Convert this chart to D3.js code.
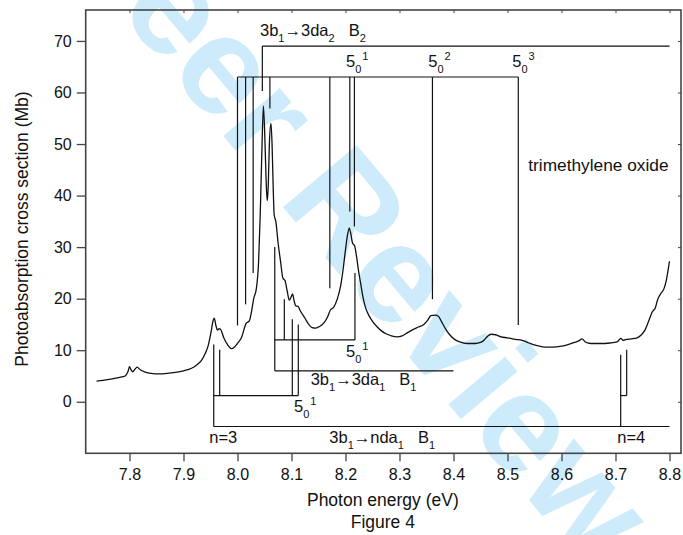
<!DOCTYPE html>
<html>
<head>
<meta charset="utf-8">
<script src="https://cdn.jsdelivr.net/npm/d3@7"></script>
<style>
  body { margin: 0; background: #fff; }
  svg { display: block; font-family: "Liberation Sans", Arial, sans-serif; }
</style>
</head>
<body>
<div id="chart"></div>
<script>
// spectrum (eV, Mb)
const energy = [7.739, 7.760, 7.780, 7.792, 7.797, 7.800, 7.803, 7.806, 7.810, 7.814, 7.820, 7.828, 7.840, 7.855, 7.870,
  7.885, 7.900, 7.915, 7.925, 7.933, 7.940, 7.946, 7.951, 7.955, 7.957, 7.960, 7.963, 7.966, 7.969, 7.975,
  7.982, 7.990, 7.996, 8.002, 8.008, 8.012, 8.016, 8.022, 8.026, 8.030, 8.035, 8.039, 8.042, 8.045, 8.048,
  8.051, 8.053, 8.055, 8.057, 8.059, 8.062, 8.064, 8.066, 8.068, 8.071, 8.075, 8.080, 8.084, 8.088, 8.092,
  8.096, 8.100, 8.102, 8.105, 8.108, 8.112, 8.117, 8.125, 8.132, 8.138, 8.145, 8.152, 8.160, 8.167, 8.172,
  8.178, 8.185, 8.191, 8.196, 8.200, 8.204, 8.207, 8.210, 8.213, 8.217, 8.220, 8.224, 8.228, 8.232, 8.237,
  8.243, 8.250, 8.258, 8.266, 8.275, 8.285, 8.295, 8.305, 8.315, 8.325, 8.335, 8.345, 8.352, 8.358, 8.366,
  8.372, 8.378, 8.385, 8.393, 8.402, 8.412, 8.425, 8.440, 8.450, 8.457, 8.463, 8.470, 8.478, 8.488, 8.500,
  8.515, 8.527, 8.540, 8.555, 8.570, 8.585, 8.600, 8.612, 8.624, 8.632, 8.638, 8.644, 8.655, 8.670, 8.690,
  8.703, 8.710, 8.714, 8.720, 8.730, 8.740, 8.748, 8.755, 8.762, 8.768, 8.774, 8.778, 8.784, 8.790, 8.794,
  8.797, 8.800];
const crossSection = [4.0, 4.3, 4.7, 5.0, 5.8, 6.8, 6.2, 5.8, 6.3, 6.7, 6.2, 5.8, 5.5, 5.4, 5.5,
  5.7, 6.0, 6.5, 7.2, 8.0, 9.3, 11.0, 13.5, 15.8, 16.2, 14.8, 13.9, 14.2, 14.0, 12.3,
  11.0, 10.3, 10.8, 11.6, 12.6, 14.0, 15.2, 15.7, 17.5, 20.0, 22.0, 27.0, 36.0, 48.0, 57.4,
  50.0, 43.0, 39.0, 42.0, 50.0, 54.0, 50.0, 42.0, 36.2, 35.0, 31.0, 27.0, 24.0, 23.5, 21.5,
  19.7, 20.5, 20.9, 19.5, 18.6, 18.5, 17.5, 16.2, 15.0, 14.4, 14.3, 14.6, 15.3, 16.5, 17.8,
  18.3, 20.0, 22.5, 26.0, 29.5, 32.5, 33.7, 32.5, 30.8, 30.2, 28.5, 25.5, 23.0, 20.5, 18.3,
  16.8, 15.6, 14.6, 13.8, 13.2, 12.8, 12.6, 12.8, 13.4, 14.0, 14.5, 15.0, 15.8, 16.7, 16.8,
  16.6, 15.5, 14.2, 13.0, 12.1, 11.6, 11.3, 11.3, 11.5, 12.0, 12.7, 13.1, 13.0, 12.6, 12.4,
  12.1, 11.9, 11.4, 10.9, 10.6, 10.6, 10.8, 11.1, 11.5, 11.8, 12.2, 11.6, 11.3, 11.3, 11.4,
  11.6, 12.3, 11.9, 12.1, 12.2, 12.4, 13.0, 14.0, 15.8, 17.4, 18.3, 19.8, 21.0, 22.0, 23.5,
  25.3, 27.3];

const xTicks = [7.8, 7.9, 8.0, 8.1, 8.2, 8.3, 8.4, 8.5, 8.6, 8.7, 8.8];
const yTicks = [0, 10, 20, 30, 40, 50, 60, 70];

// assignment combs: horizontal bar at `level` from x0 to x1, teeth [energy, tip]
const combs = [
  { level: 69, x0: 8.046, x1: 8.8, teeth: [[8.046, 60.3]] },
  { level: 63, x0: 8.0, x1: 8.52, teeth: [[8.0, 14.8], [8.015, 18.9], [8.029, 25], [8.060, 56.9], [8.171, 22],
      [8.208, 36.9], [8.2165, 34], [8.361, 19.9], [8.52, 14.9]] },
  { level: 6, x0: 8.069, x1: 8.4, teeth: [[8.069, 30]] },
  { level: 12, x0: 8.069, x1: 8.2175, teeth: [[8.0867, 19.9], [8.2175, 25]] },
  { level: -4.8, x0: 7.956, x1: 8.8, teeth: [[7.956, 11.1], [8.7096, 9.1]] },
  { level: 1.2, x0: 7.956, x1: 8.1126, teeth: [[7.967, 10.1], [8.1015, 16], [8.1126, 15]] },
  { level: 1.2, x0: 8.7096, x1: 8.7207, teeth: [[8.7207, 10.1]] }
];

// labels: parts are [text, kind, gap]
const labels = [
  { e: 8.0417, v: 71.0, parts: [['3b'], ['1', 'sub'], ['\u21923da'], ['2', 'sub'], ['B', '', 14], ['2', 'sub']] },
  { e: 8.2009, v: 65.0, parts: [['5'], ['0', 'sub'], ['1', 'sup']] },
  { e: 8.3533, v: 65.0, parts: [['5'], ['0', 'sub'], ['2', 'sup']] },
  { e: 8.5089, v: 65.0, parts: [['5'], ['0', 'sub'], ['3', 'sup']] },
  { e: 8.2009, v: 8.6, parts: [['5'], ['0', 'sub'], ['1', 'sup']] },
  { e: 8.1355, v: 3.3, parts: [['3b'], ['1', 'sub'], ['\u21923da'], ['1', 'sub'], ['B', '', 14], ['1', 'sub']] },
  { e: 8.1046, v: -1.9, parts: [['5'], ['0', 'sub'], ['1', 'sup']] },
  { e: 8.170, v: -8.0, parts: [['3b'], ['1', 'sub'], ['\u2192nda'], ['1', 'sub'], ['B', '', 14], ['1', 'sub']] },
  { e: 7.9478, v: -8.0, parts: [['n=3']] },
  { e: 8.7033, v: -8.0, parts: [['n=4']] },
  { e: 8.5385, v: 44.8, parts: [['trimethylene oxide']], size: 17.3 }
];

const w = 683, h = 535;
const mLeft = 85.7, mRight = 681, mTop = 10, mBottom = 453.3;

const svg = d3.select('#chart').append('svg')
  .attr('width', w)
  .attr('height', h);

// review watermark, sits under the plot
svg.append('text')
  .attr('transform', 'translate(-113,-265) rotate(50)')
  .attr('font-size', 140)
  .attr('font-weight', 'bold')
  .attr('fill', '#cdebfa')
  .text('For Peer Review Only');

const x = d3.scaleLinear().domain([7.7189, 8.8213]).range([mLeft, mRight]);
const y = d3.scaleLinear().domain([-10, 76]).range([mBottom, mTop]);

const xAxis = d3.axisBottom(x).tickValues(xTicks).tickFormat(d3.format('.1f')).tickSize(8).tickPadding(7);
const yAxis = d3.axisLeft(y).tickValues(yTicks).tickSize(9).tickPadding(5);

const gx = svg.append('g').attr('transform', 'translate(0,' + mBottom + ')').call(xAxis);
const gy = svg.append('g').attr('transform', 'translate(' + mLeft + ',0)').call(yAxis);
[gx, gy].forEach(g => {
  g.select('.domain').remove();
  g.selectAll('line').attr('stroke', '#444').attr('stroke-width', 1.3);
  g.selectAll('text').attr('font-size', 16).attr('fill', '#111')
    .attr('font-family', '"Liberation Sans", Arial, sans-serif');
});

// mirror ticks on top and right, pointing in
svg.append('g').attr('transform', 'translate(0,' + mTop + ')')
  .call(d3.axisTop(x).tickValues(xTicks).tickSize(-3).tickFormat(''))
  .call(g => g.select('.domain').remove())
  .selectAll('line').attr('stroke', '#444');
svg.append('g').attr('transform', 'translate(' + mRight + ',0)')
  .call(d3.axisRight(y).tickValues(yTicks).tickSize(-3).tickFormat(''))
  .call(g => g.select('.domain').remove())
  .selectAll('line').attr('stroke', '#444');

svg.append('rect')
  .attr('x', mLeft).attr('y', mTop)
  .attr('width', mRight - mLeft).attr('height', mBottom - mTop)
  .attr('fill', 'none')
  .attr('stroke', '#444')
  .attr('stroke-width', 1.6);

// combs
const combG = svg.append('g').attr('stroke', '#111').attr('stroke-width', 1.2).attr('fill', 'none');
combs.forEach(c => {
  combG.append('line')
    .attr('x1', x(c.x0)).attr('x2', x(c.x1))
    .attr('y1', y(c.level)).attr('y2', y(c.level));
  c.teeth.forEach(t => {
    combG.append('line')
      .attr('x1', x(t[0])).attr('x2', x(t[0]))
      .attr('y1', y(c.level)).attr('y2', y(t[1]));
  });
});

// spectrum
const line = d3.line()
  .x((d, i) => x(energy[i]))
  .y(d => y(d))
  .curve(d3.curveMonotoneX);
svg.append('path')
  .datum(crossSection)
  .attr('d', line)
  .attr('fill', 'none')
  .attr('stroke', '#111')
  .attr('stroke-width', 1.3);

// labels
labels.forEach(l => {
  const t = svg.append('text')
    .attr('x', x(l.e)).attr('y', y(l.v))
    .attr('font-size', l.size || 16.5)
    .attr('fill', '#111');
  let shift = 0;
  l.parts.forEach(p => {
    const kind = p[1] || '';
    const target = kind === 'sub' ? 6 : kind === 'sup' ? -7 : 0;
    const s = t.append('tspan')
      .attr('dy', target - shift)
      .text(p[0]);
    if (p[2]) s.attr('dx', p[2]);
    if (kind) s.attr('font-size', 11);
    if (kind === 'sup') s.attr('dx', 1);
    shift = target;
  });
});

// axis titles
svg.append('text')
  .attr('x', (mLeft + mRight) / 2 - 0.5).attr('y', 506)
  .attr('text-anchor', 'middle')
  .attr('font-size', 17.5)
  .attr('fill', '#111')
  .text('Photon energy (eV)');
svg.append('text')
  .attr('x', (mLeft + mRight) / 2 - 0.5).attr('y', 528)
  .attr('text-anchor', 'middle')
  .attr('font-size', 17.5)
  .attr('fill', '#111')
  .text('Figure 4');
svg.append('text')
  .attr('transform', 'translate(28,' + 229 + ') rotate(-90)')
  .attr('text-anchor', 'middle')
  .attr('font-size', 17.5)
  .attr('fill', '#111')
  .text('Photoabsorption cross section (Mb)');
</script>
</body>
</html>
